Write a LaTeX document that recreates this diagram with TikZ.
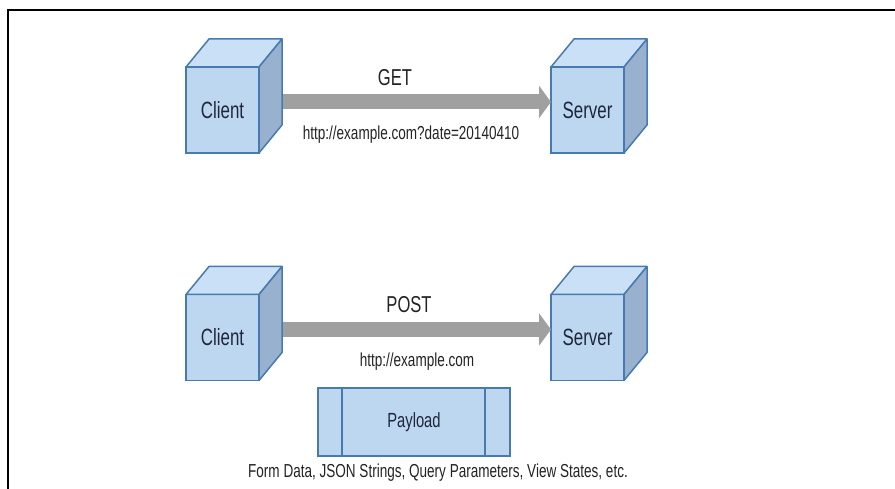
\documentclass[tikz,border=0pt]{standalone}
\usepackage{fontspec}
\setmainfont{Liberation Sans}[FakeStretch=0.72]
\usetikzlibrary{arrows.meta,calc,positioning}
\definecolor{cubefront}{RGB}{190,215,240}
\definecolor{cubetopc}{RGB}{202,224,246}
\definecolor{cubesidec}{RGB}{152,177,207}
\definecolor{cubeedge}{RGB}{72,122,176}
\definecolor{arrowgray}{RGB}{160,160,160}
\definecolor{labelcolor}{RGB}{30,38,58}
\definecolor{textgray}{RGB}{35,35,35}

\tikzset{
  cubeface/.style={draw=cubeedge, line width=1.5pt, fill=cubefront,
    minimum width=73pt, minimum height=86pt, inner sep=0pt, outer sep=0pt,
    text=labelcolor, font=\fontsize{23.5}{26}\selectfont},
  cubetop/.style={draw=cubeedge, line width=1.5pt, fill=cubetopc, line join=round},
  cubeside/.style={draw=cubeedge, line width=1.5pt, fill=cubesidec, line join=round},
  flowarrow/.style={draw=arrowgray, line width=15pt,
    -{Triangle[length=12pt,width=32pt]}},
  methodlabel/.style={text=textgray, font=\fontsize{23}{26}\selectfont},
  urllabel/.style={text=textgray, font=\fontsize{18.8}{22}\selectfont},
  payloadbox/.style={draw=cubeedge, line width=1.5pt, fill=cubefront,
    minimum width=192pt, minimum height=68pt, inner sep=0pt, outer sep=0pt,
    text=labelcolor, font=\fontsize{20.5}{24}\selectfont}
}

\begin{document}
\begin{tikzpicture}[x=1pt, y=1pt]
  \useasboundingbox (0,0) rectangle (895,489);
  % frame
  \draw[line width=2.5pt] (8,0) -- (8,479) -- (895,479);

  % GET request
  \node[cubeface] (client1) at (222.5,379) {Client};
  \node[cubeface] (server1) at (587.5,379) {Server};
  % POST request
  \node[cubeface] (client2) at (222.5,151.5) {Client};
  \node[cubeface] (server2) at (587.5,151.5) {Server};

  \foreach \c in {client1,server1,client2,server2} {
    \draw[cubetop] (\c.north west) -- ++(23,28) -- ++(73,0) -- (\c.north east) -- cycle;
    \draw[cubeside] (\c.north east) -- ++(23,28) -- ++(0,-86) -- (\c.south east) -- cycle;
  }

  \draw[flowarrow] ($(client1.east)+(24,8)$) -- ($(server1.west)+(0,8)$);
  \draw[flowarrow] ($(client2.east)+(24,8)$) -- ($(server2.west)+(0,8)$);

  \node[methodlabel] (get) at (395,411) {GET};
  \node[urllabel] (geturl) at (411,354) {http://example.com?date=20140410};
  \node[methodlabel] (post) at (409,184) {POST};
  \node[urllabel] (posturl) at (417,127) {http://example.com};

  % payload
  \node[payloadbox] (payload) at (414,67) {Payload};
  \draw[cubeedge, line width=1.5pt] ([xshift=24pt]payload.north west) -- ([xshift=24pt]payload.south west);
  \draw[cubeedge, line width=1.5pt] ([xshift=-25pt]payload.north east) -- ([xshift=-25pt]payload.south east);
  \node[urllabel] (formdata) at (438,16)
    {Form Data, JSON Strings, Query Parameters, View States, etc.};
\end{tikzpicture}
\end{document}
